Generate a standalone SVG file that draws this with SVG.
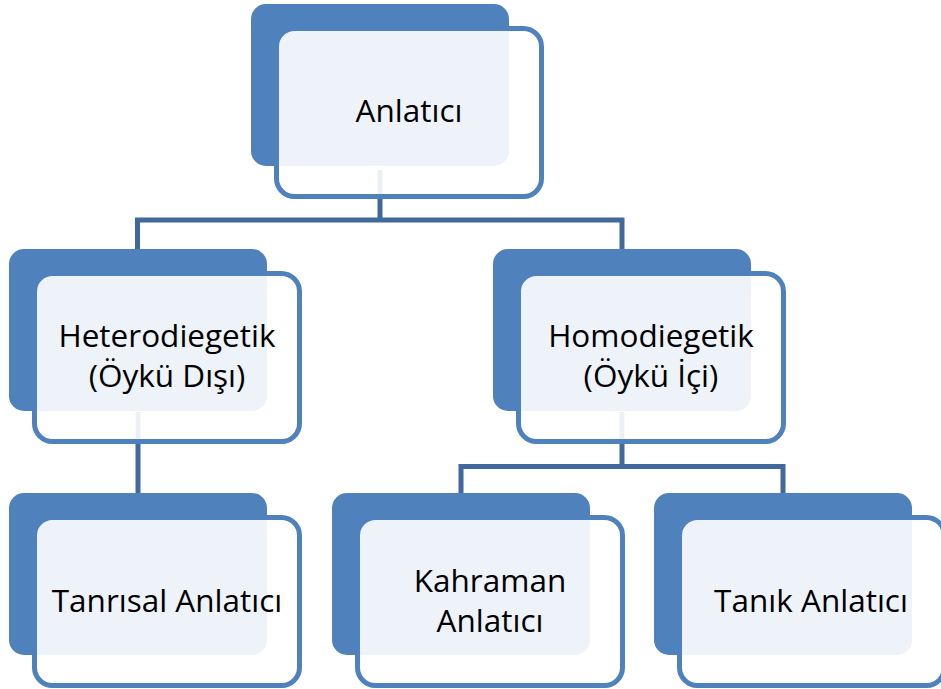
<svg xmlns="http://www.w3.org/2000/svg" width="941" height="689" viewBox="0 0 941 689">
<defs>
<style>
.back{fill:#4F81BD;}
.front{fill:#FFFFFF;fill-opacity:0.9;stroke:#4F81BD;stroke-width:5;}
.lbl{font-family:"Open Sans","Liberation Sans",sans-serif;font-size:31.5px;fill:#000000;text-anchor:middle;}
.conn{fill:none;stroke:#41699C;stroke-width:5;stroke-linejoin:miter;}
</style>
</defs>
<rect width="941" height="689" fill="#FFFFFF"/>
<g id="connectors">
<path class="conn" d="M380,170 V220 M137.5,249 V220 H622 V249"/>
<path class="conn" d="M138,412 V493"/>
<path class="conn" d="M622,412 V466.5 M461,493 V466.5 H783 V493"/>
</g>
<g id="node-anlatici">
<rect class="back" x="251" y="4" width="258" height="162" rx="15"/>
<rect class="front" x="276.5" y="28.5" width="265" height="168" rx="18"/>
<text class="lbl" x="409" y="122">Anlatıcı</text>
</g>
<g id="node-heterodiegetik">
<rect class="back" x="9" y="249" width="258" height="162" rx="15"/>
<rect class="front" x="34.5" y="273.5" width="265" height="168" rx="18"/>
<text class="lbl" x="167" y="347">Heterodiegetik</text>
<text class="lbl" x="167" y="387">(Öykü Dışı)</text>
</g>
<g id="node-homodiegetik">
<rect class="back" x="493" y="249" width="258" height="162" rx="15"/>
<rect class="front" x="518.5" y="273.5" width="265" height="168" rx="18"/>
<text class="lbl" x="651" y="347">Homodiegetik</text>
<text class="lbl" x="651" y="387">(Öykü İçi)</text>
</g>
<g id="node-tanrisal">
<rect class="back" x="9" y="493" width="258" height="162" rx="15"/>
<rect class="front" x="34.5" y="517.5" width="265" height="168" rx="18"/>
<text class="lbl" x="167" y="612">Tanrısal Anlatıcı</text>
</g>
<g id="node-kahraman">
<rect class="back" x="332" y="493" width="258" height="162" rx="15"/>
<rect class="front" x="357.5" y="517.5" width="265" height="168" rx="18"/>
<text class="lbl" x="490" y="592">Kahraman</text>
<text class="lbl" x="490" y="632">Anlatıcı</text>
</g>
<g id="node-tanik">
<rect class="back" x="654" y="493" width="258" height="162" rx="15"/>
<rect class="front" x="679.5" y="517.5" width="265" height="168" rx="18"/>
<text class="lbl" x="811" y="612">Tanık Anlatıcı</text>
</g>
</svg>
